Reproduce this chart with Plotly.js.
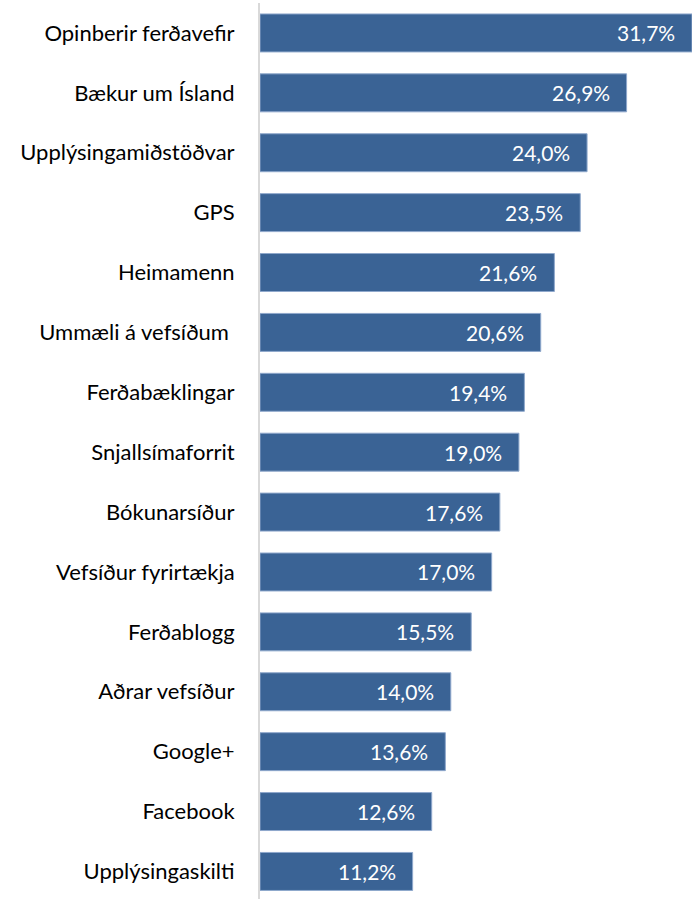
<!DOCTYPE html>
<html>
<head>
<meta charset="utf-8">
<script src="https://cdn.plot.ly/plotly-3.0.1.min.js"></script>
<style>html,body{margin:0;padding:0;background:#fff;}#chart{width:692px;height:899px;}</style>
</head>
<body>
<div id="chart"></div>
<script>
const categories = [
  "Opinberir ferðavefir",
  "Bækur um Ísland",
  "Upplýsingamiðstöðvar",
  "GPS",
  "Heimamenn",
  "Ummæli á vefsíðum ",
  "Ferðabæklingar",
  "Snjallsímaforrit",
  "Bókunarsíður",
  "Vefsíður fyrirtækja",
  "Ferðablogg",
  "Aðrar vefsíður",
  "Google+",
  "Facebook",
  "Upplýsingaskilti"
];
const values = [31.7, 26.9, 24.0, 23.5, 21.6, 20.6, 19.4, 19.0, 17.6, 17.0, 15.5, 14.0, 13.6, 12.6, 11.2];
const valueLabels = values.map(v => v.toFixed(1).replace('.', ',') + '%');

const fontFam = 'Lato, "Open Sans", sans-serif';

const trace = {
  type: 'bar',
  orientation: 'h',
  y: categories,
  x: values,
  marker: { color: '#3A6395', line: { color: '#8FA8CC', width: 1 } },
  hoverinfo: 'none'
};

const annotations = values.map((v, i) => ({
  x: v, y: categories[i], xref: 'x', yref: 'y',
  text: valueLabels[i], showarrow: false,
  xanchor: 'right', xshift: -15,
  font: { family: fontFam, size: 21, color: '#ffffff' }
}));

const layout = {
  width: 692, height: 899,
  margin: { l: 260, r: 0, t: 3, b: 0 },
  paper_bgcolor: '#ffffff', plot_bgcolor: '#ffffff',
  showlegend: false,
  bargap: 0.366,
  xaxis: { range: [0, 31.7], showgrid: false, zeroline: false, showticklabels: false, showline: false, fixedrange: true },
  yaxis: {
    type: 'category', range: [14.46, -0.5], showgrid: false, zeroline: false,
    showline: true, linecolor: '#D9D9D9', linewidth: 2,
    ticks: '', ticklabelstandoff: 19,
    tickfont: { family: fontFam, size: 22, color: '#000000' }
  },
  annotations: annotations
};

Plotly.newPlot('chart', [trace], layout, { displayModeBar: false, staticPlot: true });
</script>
</body>
</html>
